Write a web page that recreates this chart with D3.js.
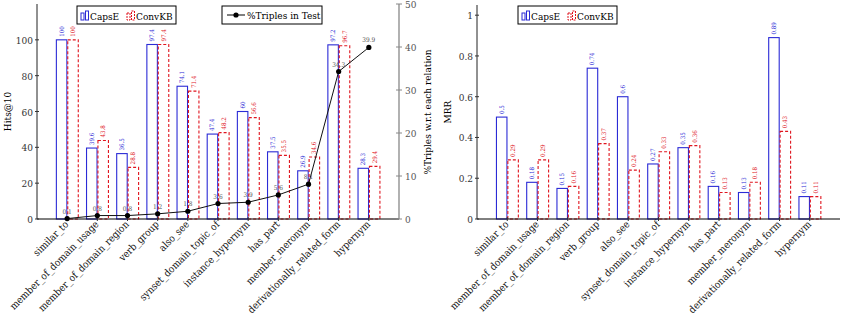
<!DOCTYPE html>
<html>
<head>
<meta charset="utf-8">
<script src="https://cdn.jsdelivr.net/npm/d3@7"></script>
<style>
  body { margin: 0; background: #fff; }
  svg text { font-family: "DejaVu Serif Condensed", "DejaVu Serif", serif; font-stretch: condensed; }
</style>
</head>
<body>
<div id="chart"></div>
<script>
// relations in WN18RR
const relations = ["similar_to", "member_of_domain_usage", "member_of_domain_region", "verb_group",
    "also_see", "synset_domain_topic_of", "instance_hypernym", "has_part", "member_meronym",
    "derivationally_related_form", "hypernym"];

const hitsCapsE = [100, 39.6, 36.5, 97.4, 74.1, 47.4, 60, 37.5, 26.9, 97.2, 28.3];
const hitsConvKB = [100, 43.8, 28.8, 97.4, 71.4, 48.2, 56.6, 35.5, 34.6, 96.7, 29.4];
const triplesInTest = [0.1, 0.8, 0.8, 1.2, 1.8, 3.6, 3.9, 5.6, 8.1, 34.3, 39.9];

const mrrCapsE = [0.5, 0.18, 0.15, 0.74, 0.6, 0.27, 0.35, 0.16, 0.13, 0.89, 0.11];
const mrrConvKB = [0.29, 0.29, 0.16, 0.37, 0.24, 0.33, 0.36, 0.13, 0.18, 0.43, 0.11];

const hitsTicks = [0, 20, 40, 60, 80, 100];
const triplesTicks = [0, 10, 20, 30, 40, 50];
const mrrTicks = [0, 0.2, 0.4, 0.6, 0.8, 1];

const blue = "#2b2bd6";
const red = "#e0141e";
const width = 843, height = 314;
const fs = 10;

const svg = d3.select("#chart").append("svg")
    .attr("width", width)
    .attr("height", height);

function drawPanel(opts) {
    const g = svg.append("g");
    const x = d3.scalePoint().domain(relations).range([opts.left, opts.right]).padding(1);
    const y = d3.scaleLinear().domain(opts.yDomain).range([opts.bottom, opts.top]);
    const bw = 10.5;

    // bars
    const series = [
        {vals: opts.capsE, color: blue, dash: null, off: -bw - 0.3},
        {vals: opts.convKB, color: red, dash: "3,2", off: 0.6}
    ];
    series.forEach(s => {
        g.selectAll(null)
            .data(relations)
            .join("rect")
            .attr("x", (d, i) => x(d) + s.off)
            .attr("y", (d, i) => y(s.vals[i]))
            .attr("width", bw)
            .attr("height", (d, i) => opts.bottom - y(s.vals[i]))
            .attr("fill", "white")
            .attr("stroke", s.color)
            .attr("stroke-width", 1.1)
            .attr("stroke-dasharray", s.dash);

        g.selectAll(null)
            .data(relations)
            .join("text")
            .attr("transform", (d, i) => `translate(${x(d) + s.off + bw / 2 + 2},${y(s.vals[i]) - 3}) rotate(-90)`)
            .attr("font-size", 6.2)
            .attr("fill", s.color)
            .text((d, i) => s.vals[i]);
    });

    // x axis
    g.append("line")
        .attr("x1", opts.left).attr("x2", opts.right)
        .attr("y1", opts.bottom).attr("y2", opts.bottom)
        .attr("stroke", "black");
    relations.forEach(r => {
        g.append("line")
            .attr("x1", x(r)).attr("x2", x(r))
            .attr("y1", opts.bottom - 2).attr("y2", opts.bottom + 2)
            .attr("stroke", "#333");
        g.append("text")
            .attr("transform", `translate(${x(r) + 2},${opts.bottom + 6}) rotate(-45)`)
            .attr("text-anchor", "end")
            .attr("font-size", fs)
            .attr("fill", "#111")
            .text(r);
    });

    // y axis
    g.append("line")
        .attr("x1", opts.left).attr("x2", opts.left)
        .attr("y1", opts.top).attr("y2", opts.bottom)
        .attr("stroke", "#222");
    opts.yTicks.forEach(t => {
        g.append("line")
            .attr("x1", opts.left - 2).attr("x2", opts.left + 2)
            .attr("y1", y(t)).attr("y2", y(t))
            .attr("stroke", "#333");
        g.append("text")
            .attr("x", opts.left - 4).attr("y", y(t) + 4)
            .attr("text-anchor", "end")
            .attr("font-size", fs)
            .attr("fill", "#333")
            .text(t);
    });
    g.append("text")
        .attr("transform", `translate(${opts.left - 26},${(opts.top + opts.bottom) / 2}) rotate(-90)`)
        .attr("text-anchor", "middle")
        .attr("font-size", fs)
        .text(opts.yLabel);

    // bar legend
    const lx = opts.legendX, ly = 6;
    g.append("rect")
        .attr("x", lx).attr("y", ly).attr("width", 99).attr("height", 18)
        .attr("fill", "white").attr("stroke", "black");
    [[lx + 4, blue, null, "CapsE"], [lx + 50, red, "2,1", "ConvKB"]].forEach(([px, c, dash, name]) => {
        g.append("rect").attr("x", px).attr("y", ly + 7).attr("width", 3).attr("height", 7)
            .attr("fill", "white").attr("stroke", c).attr("stroke-dasharray", dash);
        g.append("rect").attr("x", px + 4.5).attr("y", ly + 5).attr("width", 3).attr("height", 9)
            .attr("fill", "white").attr("stroke", c).attr("stroke-dasharray", dash);
        g.append("text").attr("x", px + 9).attr("y", ly + 13.5)
            .attr("font-size", fs).text(name);
    });

    return {g, x, y};
}

// Hits@10 panel
const left = drawPanel({
    left: 37, right: 399, top: 4, bottom: 219,
    yDomain: [0, 120], yTicks: hitsTicks, yLabel: "Hits@10",
    capsE: hitsCapsE, convKB: hitsConvKB, legendX: 77
});

// secondary axis: % triples in test
const y2 = d3.scaleLinear().domain([0, 50]).range([219, 4]);
const gr = left.g;
gr.append("line")
    .attr("x1", 399).attr("x2", 399).attr("y1", 4).attr("y2", 219)
    .attr("stroke", "#888").attr("stroke-width", 1.3);
triplesTicks.forEach(t => {
    gr.append("line")
        .attr("x1", 396).attr("x2", 402).attr("y1", y2(t)).attr("y2", y2(t))
        .attr("stroke", "#888");
    gr.append("text")
        .attr("x", 405).attr("y", y2(t) + 4)
        .attr("font-size", fs).attr("fill", "#555")
        .text(t);
});
gr.append("text")
    .attr("transform", `translate(431,112) rotate(-90)`)
    .attr("text-anchor", "middle")
    .attr("font-size", fs)
    .text("%Triples w.r.t each relation");

const line = d3.line()
    .x((d, i) => left.x(relations[i]))
    .y(d => y2(d));
gr.append("path")
    .datum(triplesInTest)
    .attr("d", line)
    .attr("fill", "none")
    .attr("stroke", "#111")
    .attr("stroke-width", 1);
gr.selectAll(null)
    .data(triplesInTest)
    .join("circle")
    .attr("cx", (d, i) => left.x(relations[i]))
    .attr("cy", d => y2(d))
    .attr("r", 2.6)
    .attr("fill", "black");
gr.selectAll(null)
    .data(triplesInTest)
    .join("text")
    .attr("x", (d, i) => left.x(relations[i]))
    .attr("y", d => y2(d) - 5)
    .attr("text-anchor", "middle")
    .attr("font-size", 6.5)
    .attr("fill", "#555")
    .text(d => d);

// line legend
gr.append("rect")
    .attr("x", 222).attr("y", 6).attr("width", 100).attr("height", 18)
    .attr("fill", "white").attr("stroke", "black");
gr.append("line")
    .attr("x1", 227).attr("x2", 245).attr("y1", 15).attr("y2", 15)
    .attr("stroke", "black");
gr.append("circle").attr("cx", 236).attr("cy", 15).attr("r", 2.6).attr("fill", "black");
gr.append("text").attr("x", 247).attr("y", 19)
    .attr("font-size", fs).text("%Triples in Test");

// MRR panel
drawPanel({
    left: 477, right: 840, top: 5, bottom: 219,
    yDomain: [0, 1.05], yTicks: mrrTicks, yLabel: "MRR",
    capsE: mrrCapsE, convKB: mrrConvKB, legendX: 518
});
</script>
</body>
</html>
